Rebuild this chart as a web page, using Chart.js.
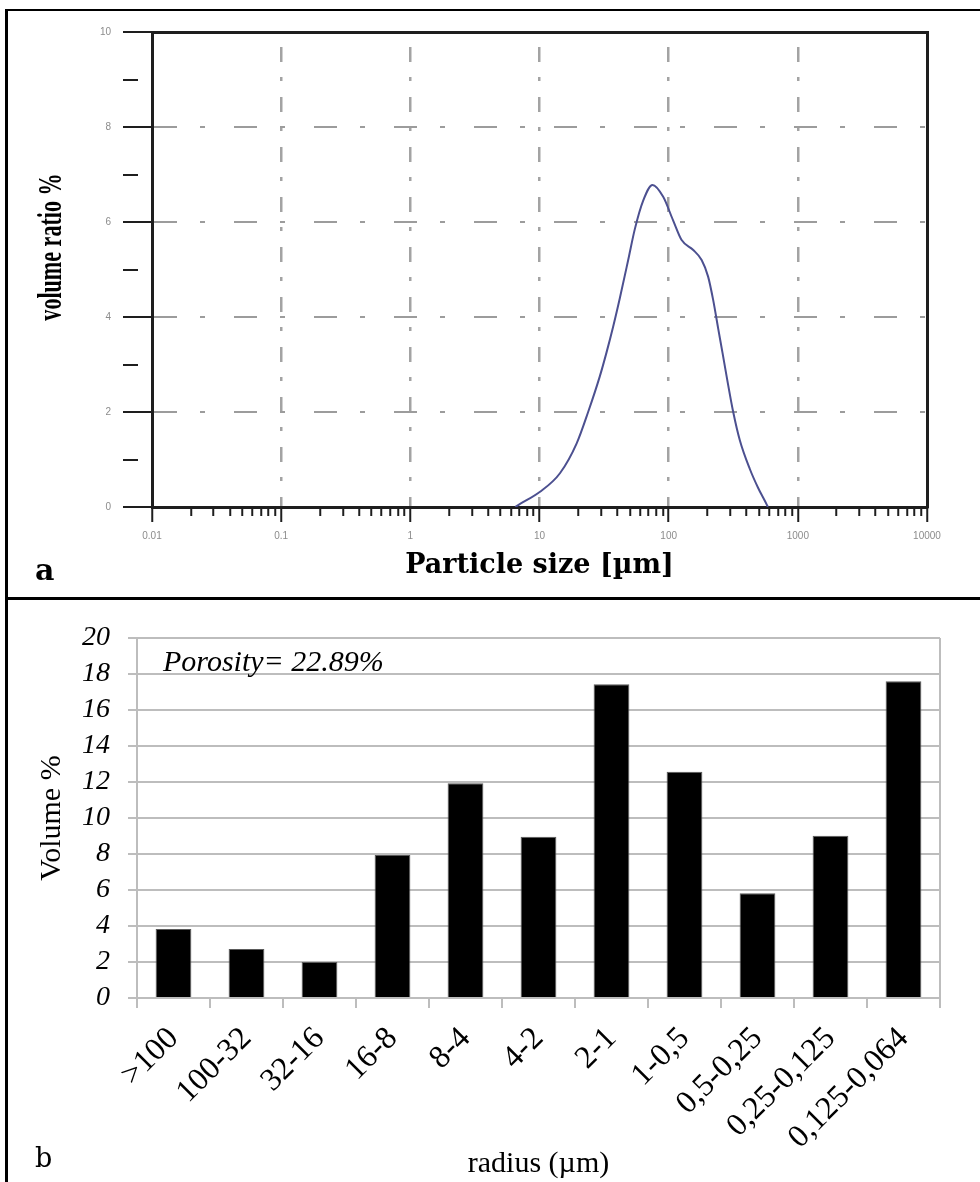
<!DOCTYPE html>
<html>
<head>
<meta charset="utf-8">
<script src="https://cdn.jsdelivr.net/npm/chart.js@4.4.1/dist/chart.umd.min.js"></script>
<style>
  html, body { margin: 0; padding: 0; background: #fff; }
  #page { position: relative; width: 980px; height: 1182px; overflow: hidden; }
  canvas { position: absolute; left: 0; }
  #chartA { top: 0; }
  #chartB { top: 600px; }
  .rule { position: absolute; background: #000; }
  .txt { position: absolute; white-space: nowrap; color: #000; }
  #ylabA {
    left: 50px; top: 247px;
    font: bold 34px 'Liberation Serif', serif; line-height: 1;
    transform: translate(-50%, -50%) rotate(-90deg) scaleX(0.65);
  }
  #tagA { left: 35px; top: 555px; font: bold 30px 'DejaVu Serif', serif; line-height: 30px; }
  #tagB { left: 35px; top: 1144px; font: 27px 'DejaVu Serif', serif; line-height: 27px; }
  #porosity { left: 163px; top: 646px; font: italic 30px 'Liberation Serif', serif; line-height: 30px; }
</style>
</head>
<body>
<div id="page">
  <canvas id="chartA" width="980" height="598"></canvas>
  <canvas id="chartB" width="980" height="582"></canvas>
  <div class="rule" style="left:5px;top:9px;width:975px;height:2px"></div>
  <div class="rule" style="left:5px;top:9px;width:3px;height:1173px"></div>
  <div class="rule" style="left:5px;top:597px;width:975px;height:3px"></div>
  <div class="txt" id="ylabA">volume ratio %</div>
  <div class="txt" id="tagA">a</div>
  <div class="txt" id="tagB">b</div>
  <div class="txt" id="porosity">Porosity= 22.89%</div>
</div>
<script>
// --- panel a: particle size distribution (log x) ---
const sizeMicrons = [6.5, 6.84, 10.1, 14.4, 19.4, 23.8, 29.3, 33, 37.2, 41.9, 48.6, 54.7, 63.5, 75,
  90.7, 108, 126, 155, 180, 202, 221, 242, 261, 281, 316, 356, 425, 493, 572, 586];
const volumeRatio = [0, 0.04, 0.32, 0.71, 1.34, 2.0, 2.75, 3.25, 3.8, 4.4, 5.2, 5.85, 6.45, 6.78,
  6.53, 6.04, 5.62, 5.41, 5.2, 4.85, 4.36, 3.75, 3.25, 2.75, 2.0, 1.4, 0.8, 0.4, 0.06, 0];
const sizeDecades = [0.01, 0.1, 1, 10, 100, 1000, 10000];
const sizeDecadeLabels = ['0.01', '0.1', '1', '10', '100', '1000', '10000'];

// --- panel b: pore radius classes ---
const radiusClasses = ['>100', '100-32', '32-16', '16-8', '8-4', '4-2', '2-1', '1-0,5',
  '0,5-0,25', '0,25-0,125', '0,125-0,064'];
const volumePercent = [3.83, 2.72, 2.0, 7.94, 11.93, 8.96, 17.43, 12.57, 5.82, 9.02, 17.6];

// decade ticks plus 2..9 minor ticks in between
const sizeTickValues = [];
sizeDecades.forEach((d, i) => {
  sizeTickValues.push(d);
  if (i < sizeDecades.length - 1) {
    for (let m = 2; m <= 9; m++) sizeTickValues.push(d * m);
  }
});

const isDecade = v => sizeDecades.includes(v);
const isInnerDecade = v => isDecade(v) && v !== sizeDecades[0] && v !== sizeDecades[sizeDecades.length - 1];
const clear = 'rgba(0,0,0,0)';
const dark = '#1e1e1e';

new Chart(document.getElementById('chartA'), {
  type: 'line',
  data: {
    datasets: [{
      data: sizeMicrons.map((x, i) => ({ x: x, y: volumeRatio[i] })),
      borderColor: '#4c5090',
      borderWidth: 2,
      pointRadius: 0,
      cubicInterpolationMode: 'monotone',
      fill: false
    }]
  },
  options: {
    responsive: false,
    animation: false,
    devicePixelRatio: 1,
    layout: { padding: { left: 0, top: 32, right: 53, bottom: 0 } },
    plugins: { legend: { display: false }, tooltip: { enabled: false } },
    scales: {
      x: {
        type: 'logarithmic',
        position: 'bottom',
        min: 0.01,
        max: 10000,
        afterBuildTicks: s => { s.ticks = sizeTickValues.map(v => ({ value: v })); },
        afterFit: s => { s.height = 91; },
        ticks: {
          autoSkip: false, maxRotation: 0, minRotation: 0, padding: 8,
          color: '#8c8c8c',
          font: { family: 'Liberation Sans', size: 10 },
          callback: v => {
            const i = sizeDecades.indexOf(v);
            return i < 0 ? '' : sizeDecadeLabels[i];
          }
        },
        grid: {
          color: c => (c.tick && isInnerDecade(c.tick.value)) ? '#a3a3a3' : clear,
          lineWidth: 2.5,
          tickLength: 15,
          tickColor: dark,
          tickWidth: 2,
          tickBorderDash: c => (c.tick && isDecade(c.tick.value)) ? [] : [7, 40]
        },
        border: { color: dark, width: 3, dash: [15, 15, 4, 16], dashOffset: 35 },
        title: {
          display: true,
          text: 'Particle size [µm]',
          color: '#000',
          font: { family: 'DejaVu Serif', weight: 'bold', size: 27 },
          padding: { top: 0, bottom: 16 }
        }
      },
      y: {
        min: 0,
        max: 10,
        afterFit: s => { s.width = 152; },
        ticks: {
          stepSize: 1, padding: 12, autoSkip: false,
          color: '#8c8c8c',
          font: { family: 'Liberation Sans', size: 10 },
          callback: v => (v % 2 === 0 ? String(v) : '')
        },
        grid: {
          color: c => (c.tick && c.tick.value % 2 === 0 && c.tick.value > 0 && c.tick.value < 10) ? '#9c9c9c' : clear,
          lineWidth: 2,
          tickLength: 29,
          tickColor: dark,
          tickWidth: 2,
          tickBorderDash: c => (c.tick && c.tick.value % 2 !== 0) ? [15, 40] : []
        },
        border: { color: dark, width: 3, dash: [23, 23, 5, 29] }
      },
      xTop: {
        axis: 'x',
        type: 'linear',
        position: 'top',
        afterFit: s => { s.height = 0; },
        ticks: { display: false },
        grid: { display: false, drawTicks: false },
        border: { color: dark, width: 3 }
      },
      yRight: {
        axis: 'y',
        type: 'linear',
        position: 'right',
        afterFit: s => { s.width = 0; },
        ticks: { display: false },
        grid: { display: false, drawTicks: false },
        border: { color: dark, width: 3 }
      }
    }
  }
});

const gridGrey = '#bdbdbd';

new Chart(document.getElementById('chartB'), {
  type: 'bar',
  data: {
    labels: radiusClasses,
    datasets: [{
      data: volumePercent,
      backgroundColor: '#000',
      borderColor: '#5a5a5a',
      borderWidth: 1,
      barPercentage: 0.49,
      categoryPercentage: 1
    }]
  },
  options: {
    responsive: false,
    animation: false,
    devicePixelRatio: 1,
    layout: { padding: { left: 20, top: 38, right: 40, bottom: 0 } },
    plugins: { legend: { display: false }, tooltip: { enabled: false } },
    scales: {
      x: {
        afterFit: s => { s.height = 184; },
        grid: {
          offset: true,
          // only the closing line on the right edge is drawn across the plot
          color: c => (c.index === undefined ? gridGrey : clear),
          lineWidth: 2,
          tickLength: 10,
          tickColor: gridGrey,
          tickWidth: 2
        },
        border: { color: gridGrey, width: 2 },
        ticks: {
          autoSkip: false, minRotation: 45, maxRotation: 45, padding: 12,
          color: '#000',
          font: { family: 'Liberation Serif', size: 32 }
        },
        title: {
          display: true,
          text: 'radius (µm)',
          color: '#000',
          font: { family: 'Liberation Serif', size: 30 },
          padding: 0
        }
      },
      y: {
        min: 0,
        max: 20,
        afterFit: s => { s.width = 117; },
        ticks: {
          stepSize: 2, padding: 18, autoSkip: false,
          color: '#000',
          font: { family: 'Liberation Serif', size: 28, style: 'italic' }
        },
        grid: { color: gridGrey, lineWidth: 2, tickLength: 9 },
        border: { color: gridGrey, width: 2 },
        title: {
          display: true,
          text: 'Volume %',
          color: '#000',
          font: { family: 'Liberation Serif', size: 30 },
          padding: { top: 14, bottom: 0 }
        }
      }
    }
  }
});
</script>
</body>
</html>
